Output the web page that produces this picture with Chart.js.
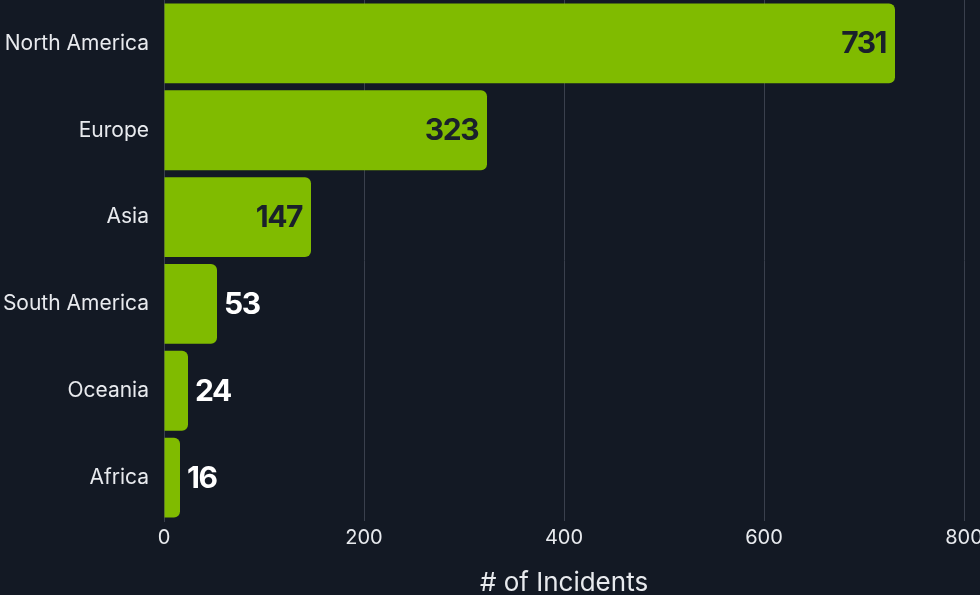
<!DOCTYPE html>
<html>
<head>
<meta charset="utf-8">
<script src="https://cdn.jsdelivr.net/npm/chart.js@4"></script>
<style>
  html, body { margin: 0; padding: 0; background: #131924; overflow: hidden; }
  #wrap { width: 980px; height: 595px; }
</style>
</head>
<body>
<div id="wrap"><canvas id="c" width="980" height="595"></canvas></div>
<script>
const regions = ['North America', 'Europe', 'Asia', 'South America', 'Oceania', 'Africa']
const incidents = [731, 323, 147, 53, 24, 16]
const xTicks = [0, 200, 400, 600, 800]

const barColor = '#80bb00'
const gridColor = '#3a404d'
const textColor = '#e8eaee'

// value labels: inside the bar end for long bars, just past it for short ones
const valueLabels = {
  id: 'valueLabels',
  afterDatasetsDraw(chart) {
    const ctx = chart.ctx
    const meta = chart.getDatasetMeta(0)
    ctx.save()
    ctx.font = 'bold 30px Inter'
    ctx.letterSpacing = '-1.5px'
    ctx.textBaseline = 'middle'
    meta.data.forEach((bar, i) => {
      const txt = String(incidents[i])
      const w = bar.x - bar.base
      if (w > 100) {
        ctx.fillStyle = '#1a202b'
        ctx.textAlign = 'right'
        ctx.fillText(txt, bar.x - 9, bar.y + 1)
      } else {
        ctx.fillStyle = '#ffffff'
        ctx.textAlign = 'left'
        ctx.fillText(txt, bar.x + 7, bar.y + 1)
      }
    })
    ctx.restore()
  }
}

new Chart(document.getElementById('c'), {
  type: 'bar',
  data: {
    labels: regions,
    datasets: [{
      data: incidents,
      backgroundColor: barColor,
      borderRadius: 6,
      borderSkipped: 'start',
      barPercentage: 0.92,
      categoryPercentage: 1
    }]
  },
  options: {
    indexAxis: 'y',
    responsive: false,
    animation: false,
    layout: { padding: { top: -2, right: 16, left: 0, bottom: 0 } },
    plugins: { legend: { display: false }, tooltip: { enabled: false } },
    scales: {
      x: {
        min: 0, max: 800,
        afterBuildTicks(scale) { scale.ticks = xTicks.map(v => ({ value: v })) },
        afterFit(scale) { scale.height = 74; scale.paddingLeft = 0; scale.paddingRight = 0 },
        grid: { color: gridColor, drawTicks: false },
        border: { display: false },
        ticks: { color: textColor, font: { family: 'Inter', size: 20 }, padding: 5, maxRotation: 0 },
        title: {
          display: true, text: '# of Incidents', color: textColor,
          font: { family: 'Inter', size: 26, lineHeight: 0.9 }, padding: 0
        }
      },
      y: {
        afterFit(scale) { scale.width = 164; scale.paddingTop = 0; scale.paddingBottom = 0 },
        grid: { display: false, drawTicks: false },
        border: { display: true, color: gridColor },
        ticks: { color: textColor, font: { family: 'Inter', size: 21 }, padding: 15 }
      }
    }
  },
  plugins: [valueLabels]
})
</script>
</body>
</html>
